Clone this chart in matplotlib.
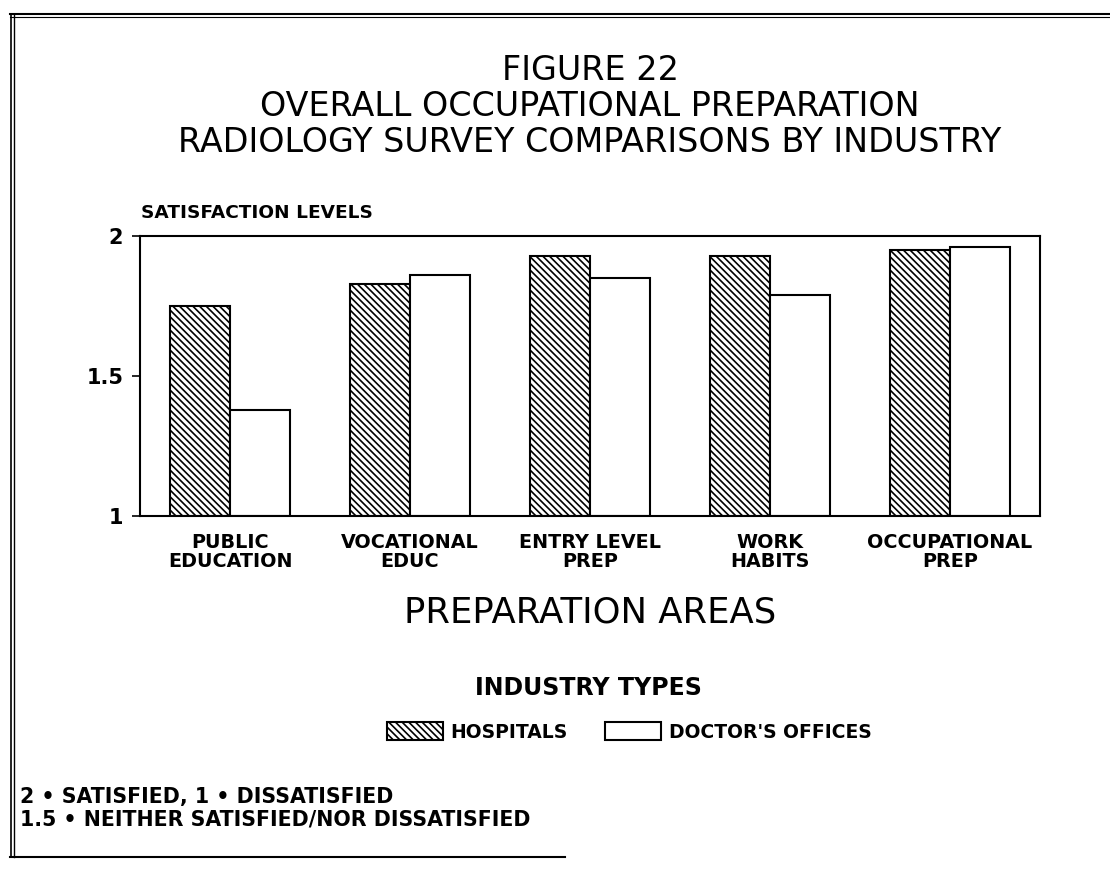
import numpy as np
import matplotlib
matplotlib.use("Agg")
import matplotlib.pyplot as plt
from matplotlib.lines import Line2D

# data
areas = ["PUBLIC\nEDUCATION", "VOCATIONAL\nEDUC", "ENTRY LEVEL\nPREP",
         "WORK\nHABITS", "OCCUPATIONAL\nPREP"]
hospitals = [1.75, 1.83, 1.93, 1.93, 1.95]
doctors = [1.38, 1.86, 1.85, 1.79, 1.96]
series_names = ["HOSPITALS", "DOCTOR'S OFFICES"]
y_ticks = [1, 1.5, 2]
y_ticklabels = ["1", "1.5", "2"]

plt.rcParams["font.family"] = ["DejaVu Sans"]
plt.rcParams["hatch.linewidth"] = 1.2

W, H = 1110, 872
fig = plt.figure(figsize=(W / 100, H / 100), dpi=100)


def fx(px):
    return px / W


def fy(py):
    return 1 - py / H


ax = fig.add_axes([fx(140), fy(516), fx(1040) - fx(140), fy(236) - fy(516)])

x = np.arange(len(areas))
w = 1 / 3
b1 = ax.bar(x - w / 2, np.array(hospitals) - 1, w, bottom=1, color="white",
            edgecolor="black", hatch="\\" * 5, linewidth=1.5,
            label=series_names[0])
b2 = ax.bar(x + w / 2, np.array(doctors) - 1, w, bottom=1, color="white",
            edgecolor="black", linewidth=1.5, label=series_names[1])

ax.set_xlim(-0.5, len(areas) - 0.5)
ax.set_ylim(1, 2)
ax.set_yticks(y_ticks)
ax.set_yticklabels(y_ticklabels, fontsize=15, fontweight="bold")
ax.set_xticks(x)
ax.set_xticklabels(areas, fontsize=13.8, fontweight="bold", linespacing=1.0)
ax.tick_params(axis="x", length=0, pad=12)
ax.tick_params(axis="y", length=6, width=1.2, pad=6)
for s in ax.spines.values():
    s.set_linewidth(1.5)

# titles
fig.text(fx(590), fy(70), "FIGURE 22", ha="center", va="center", fontsize=24)
fig.text(fx(590), fy(106), "OVERALL OCCUPATIONAL PREPARATION", ha="center",
         va="center", fontsize=24)
fig.text(fx(590), fy(142), "RADIOLOGY SURVEY COMPARISONS BY INDUSTRY",
         ha="center", va="center", fontsize=24)
fig.text(fx(141), fy(213), "SATISFACTION LEVELS", ha="left", va="center",
         fontsize=13.3, fontweight="bold")
fig.text(fx(590), fy(612), "PREPARATION AREAS", ha="center", va="center",
         fontsize=25.5)
fig.text(fx(588), fy(688), "INDUSTRY TYPES", ha="center", va="center",
         fontsize=17, fontweight="bold")

leg = fig.legend(handles=[b1, b2], loc="center", bbox_to_anchor=(fx(629), fy(732)),
                 ncol=2, frameon=False, handlelength=3.0, handleheight=1.1,
                 handletextpad=0.4, columnspacing=2.0,
                 prop={"size": 13.5, "weight": "bold"})

fig.text(fx(20), fy(797), "2 \u2022 SATISFIED, 1 \u2022 DISSATISFIED",
         ha="left", va="center", fontsize=14.8, fontweight="bold")
fig.text(fx(20), fy(819), "1.5 \u2022 NEITHER SATISFIED/NOR DISSATISFIED",
         ha="left", va="center", fontsize=14.8, fontweight="bold")

# page frame
frame_lines = [
    ([fx(10), fx(1110)], [fy(14), fy(14)], 1.5),
    ([fx(10), fx(1110)], [fy(17), fy(17)], 0.8),
    ([fx(11), fx(11)], [fy(14), fy(857)], 1.2),
    ([fx(14), fx(14)], [fy(14), fy(857)], 1.0),
    ([fx(10), fx(565)], [fy(857), fy(857)], 1.5),
]
for xs, ys, lw in frame_lines:
    fig.add_artist(Line2D(xs, ys, color="black", linewidth=lw,
                          transform=fig.transFigure))

fig.savefig("out.png", dpi=100)
